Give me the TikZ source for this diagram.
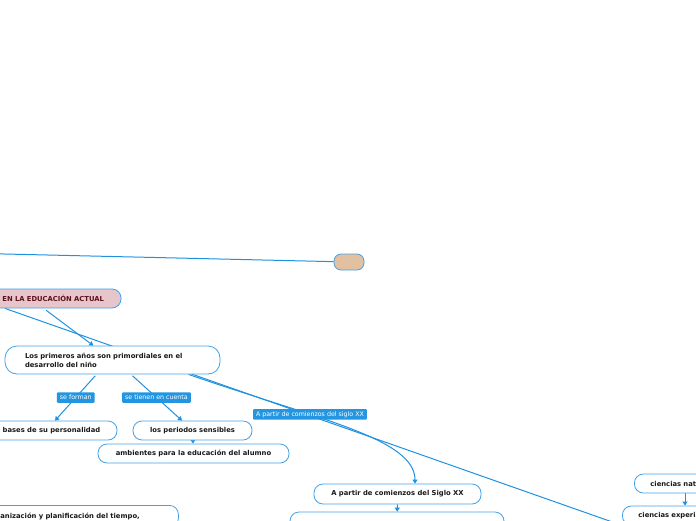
\documentclass[tikz,border=0pt]{standalone}
\usepackage{fontspec}
\setmainfont{DejaVu Sans}
\usetikzlibrary{arrows.meta, positioning, backgrounds}
\definecolor{link}{RGB}{30,145,225}
\definecolor{rim}{RGB}{66,162,230}
\definecolor{tagblue}{RGB}{36,150,225}
\definecolor{sand}{RGB}{226,192,162}
\definecolor{rose}{RGB}{230,198,203}
\definecolor{wine}{RGB}{95,15,30}

\begin{document}
\begin{tikzpicture}[x=1pt, y=-1pt,
      topic/.style={rectangle, rounded corners=9pt, draw=rim, fill=white, line width=0.8pt,
                    font=\fontsize{6.8}{9}\selectfont\bfseries, text=black!90,
                    minimum height=19pt, inner xsep=10pt, inner ysep=2pt},
      lbl/.style={fill=tagblue, text=white, font=\fontsize{6.3}{7}\selectfont,
                  text height=5pt, text depth=1.5pt, inner xsep=3pt, inner ysep=2pt, rounded corners=1pt},
      wire/.style={line width=1pt, draw=link},
      arr/.style={-{Triangle[length=4pt,width=5pt]}, line width=1pt, draw=link}
    ]
    \useasboundingbox (0,0) rectangle (696,520);
    \coordinate (edge) at (-4,253.8);
    \node[topic, fill=sand, minimum width=30pt, minimum height=16pt, rounded corners=7pt] (sand) at (349,262) {};
    \node[topic, fill=rose, text=wine, text width=147pt, inner xsep=17pt, align=right] (root) at (30.5,298.5) {EN LA EDUCACIÓN ACTUAL};
    \node[topic, minimum height=28pt, text width=175pt, inner xsep=20pt, align=left, rounded corners=12pt] (prim) at (112.5,360) {Los primeros años son primordiales en el\\desarrollo del niño};
    \node[topic, minimum width=131pt] (bases) at (51.5,430.5) {bases de su personalidad};
    \node[topic, minimum width=119pt] (periodos) at (192.5,430.5) {los periodos sensibles};
    \node[topic, minimum width=191pt] (ambientes) at (193.5,453.5) {ambientes para la educación del alumno};
    \node[topic, minimum width=167pt, minimum height=20pt] (siglo) at (397.5,494) {A partir de comienzos del Siglo XX};
    \node[topic, minimum width=214pt, minimum height=24pt] (etapas) at (397,524) {};
    \node[topic, anchor=north west, text width=170pt, inner xsep=8pt, align=left, minimum height=22pt] (tiempo) at (-8,505) {anización y planificación del tiempo,};
    \node[topic, anchor=west, text width=80pt, inner xsep=16pt, align=left] (cnat) at (634,483.5) {ciencias nat};
    \node[topic, anchor=west, text width=90pt, inner xsep=16pt, align=left] (cexp) at (622,515.5) {ciencias experi};
    \begin{scope}[on background layer]
    \draw[wire] (edge) -- (sand);
    \draw[arr, shorten <=3pt] (root) -- (prim);
    \draw[wire] ([xshift=-25.5pt]root.south) -- (cexp.south west);
    \draw[arr] ([xshift=76pt]prim.south) .. controls +(130,45) and +(0,-45) .. ([xshift=17.5pt]siglo.north)
      node[lbl, pos=0.35] {A partir de comienzos del siglo XX};
    \draw[arr, shorten <=2pt] ([xshift=-16pt]prim.south) -- node[lbl] {se forman} ([xshift=3.5pt]bases.north);
    \draw[arr, shorten <=2pt] ([xshift=18.5pt]prim.south) -- node[lbl] {se tienen en cuenta} ([xshift=-10.5pt]periodos.north);
    \draw[arr] (periodos) -- (ambientes);
    \draw[arr] (siglo) -- (etapas);
    \draw[arr] ([xshift=51pt]cnat.south west) -- ([xshift=63pt]cexp.north west);
    \end{scope}
  \end{tikzpicture}
\end{document}
